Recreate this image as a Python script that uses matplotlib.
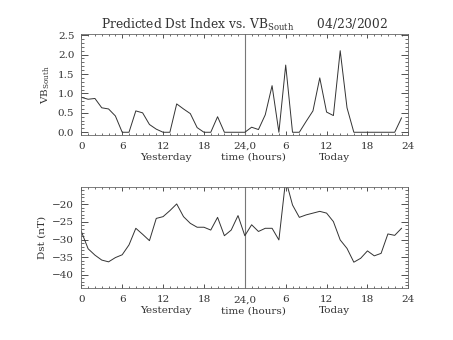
import numpy as np
import matplotlib
matplotlib.use("Agg")
import matplotlib.pyplot as plt
from matplotlib.ticker import MultipleLocator, FixedLocator

plt.rcParams['font.family'] = ['DejaVu Serif']

# hours since start of yesterday (0..47)
hours = np.arange(48)

vb_south = [0.90, 0.85, 0.87, 0.63, 0.60, 0.42, 0.0, 0.0, 0.55, 0.50,
            0.20, 0.08, 0.0, 0.0, 0.73, 0.60, 0.48, 0.12, 0.0, 0.0,
            0.40, 0.0, 0.0, 0.0, 0.0, 0.13, 0.07, 0.45, 1.20, 0.0,
            1.73, 0.0, 0.0, 0.28, 0.55, 1.40, 0.52, 0.43, 2.10, 0.63,
            0.0, 0.0, 0.0, 0.0, 0.0, 0.0, 0.0, 0.37]

dst = [-27.7, -32.6, -34.4, -35.8, -36.3, -35.1, -34.3, -31.5, -26.8, -28.5,
       -30.3, -24.0, -23.5, -21.8, -19.9, -23.5, -25.4, -26.5, -26.5, -27.3,
       -23.7, -28.9, -27.3, -23.2, -28.9, -25.8, -27.7, -26.8, -26.8, -30.1,
       -13.0, -20.2, -23.7, -23.0, -22.5, -22.0, -22.5, -24.9, -30.1, -32.5,
       -36.4, -35.3, -33.2, -34.6, -33.9, -28.4, -28.8, -26.8]

xtick_pos = [0, 6, 12, 18, 24, 30, 36, 42, 48]
xtick_lbl = ['0', '6', '12', '18', '24,0', '6', '12', '18', '24']

fig = plt.figure(figsize=(4.53, 3.40), dpi=100)
ax1 = fig.add_axes([0.1795, 0.603, 0.7219, 0.297])
ax2 = fig.add_axes([0.1795, 0.152, 0.7219, 0.297])

lc = '#333333'
for ax in (ax1, ax2):
    ax.axvline(24, color='#777777', lw=0.8)
    ax.set_xlim(0, 48)
    ax.xaxis.set_major_locator(FixedLocator(xtick_pos))
    ax.set_xticklabels(xtick_lbl)
    ax.xaxis.set_minor_locator(MultipleLocator(1))
    ax.tick_params(which='both', direction='in', top=True, right=True,
                   labelsize=7.5, colors='#333333', pad=5)
    ax.tick_params(axis='y', which='major', length=5, width=0.6)
    ax.tick_params(axis='y', which='minor', length=2.5, width=0.5)
    ax.tick_params(axis='x', which='major', length=3, width=0.6)
    ax.tick_params(axis='x', which='minor', length=1.5, width=0.5)
    for s in ax.spines.values():
        s.set_color('#666666')
        s.set_linewidth(0.6)
    ax.text(12.4, -0.22, 'Yesterday', transform=ax.get_xaxis_transform(),
            ha='center', va='center', fontsize=7.5, color='#333333')
    ax.text(25.3, -0.22, 'time (hours)', transform=ax.get_xaxis_transform(),
            ha='center', va='center', fontsize=7.5, color='#333333')
    ax.text(37.1, -0.22, 'Today', transform=ax.get_xaxis_transform(),
            ha='center', va='center', fontsize=7.5, color='#333333')

ax1.plot(hours, vb_south, color=lc, lw=0.7)
ax1.set_ylim(-0.07, 2.53)
ax1.yaxis.set_major_locator(MultipleLocator(0.5))
ax1.yaxis.set_minor_locator(MultipleLocator(0.1))
ax1.yaxis.set_major_formatter(matplotlib.ticker.FormatStrFormatter('%.1f'))
ax1.set_ylabel(r'VB$_{\mathregular{South}}$', fontsize=7.5, color='#333333')
ax1.set_title(r'Predicted Dst Index vs. VB$_{\mathregular{South}}$      04/23/2002',
              fontsize=8.8, color='#333333', pad=4)

ax2.plot(hours, dst, color=lc, lw=0.7)
ax2.set_ylim(-43.8, -15.2)
ax2.yaxis.set_major_locator(MultipleLocator(5))
ax2.yaxis.set_minor_locator(MultipleLocator(1))
ax2.set_ylabel('Dst (nT)', fontsize=7.5, color='#333333')

fig.savefig('out.png', dpi=100)
